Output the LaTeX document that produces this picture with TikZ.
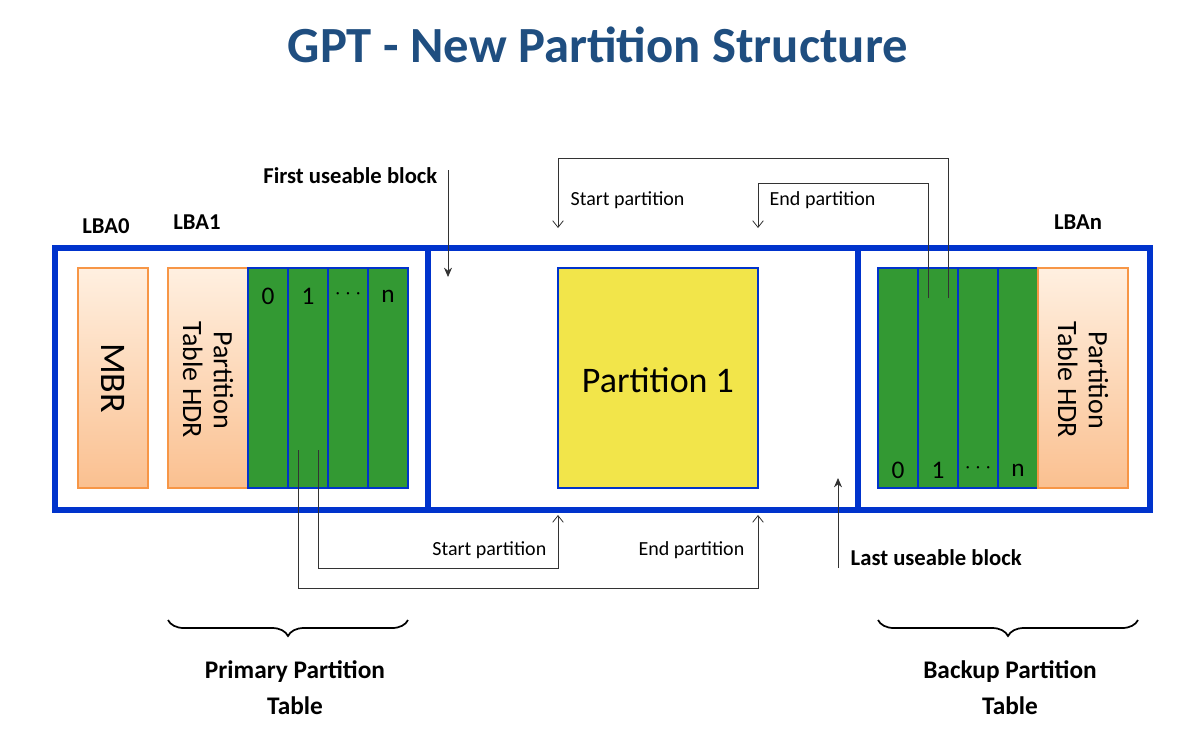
\documentclass[tikz,border=0pt]{standalone}
\usepackage{fontspec}
\setmainfont{Carlito}
\usetikzlibrary{arrows.meta,decorations.pathreplacing}
\definecolor{gblue}{HTML}{0033CC}
\definecolor{ggreen}{HTML}{339933}
\definecolor{gyel}{HTML}{F2E54A}
\definecolor{gor}{HTML}{F79646}
\definecolor{gtitle}{HTML}{1F4E80}
\begin{document}
\begin{tikzpicture}[x=0.75pt,y=-0.75pt,
  cell/.style={draw=gblue,line width=1.2pt,fill=ggreen},
  hdr/.style={draw=gor,line width=0.8pt,top color=orange!12,bottom color=gor!60},
  con/.style={draw=black!80,line width=0.6pt},
  lbl/.style={font=\fontsize{15}{18}\selectfont},
  blbl/.style={font=\bfseries\fontsize{17}{20}\selectfont},
  num/.style={font=\fontsize{19}{22}\selectfont}]
\useasboundingbox (0,0) rectangle (1196,740);
\node[font=\bfseries\fontsize{38}{44}\selectfont,text=gtitle] (title) at (598,45) {GPT - New Partition Structure};
% outer box
\draw[gblue,line width=5pt] (55,248) rectangle (1150,510);
\draw[gblue,line width=4pt] (428,248) -- (428,510) (858,248) -- (858,510);
% MBR
\path[hdr] (78,268) rectangle (148,488);
\node[rotate=-90,font=\fontsize{27}{30}\selectfont] (mbr) at (113,378) {MBR};
% left HDR
\path[hdr] (168,268) rectangle (248,488);
\node[rotate=-90,align=center,font=\fontsize{21}{23}\selectfont] (hdrl) at (208,380) {Partition\\Table HDR};
\foreach \i/\t in {0/0,1/1,2/\raisebox{2pt}{$\cdots$},3/n}{
  \path[cell] (248+40*\i,268) rectangle (288+40*\i,488);
  \node[num] (l\i) at (268+40*\i,296) {\t};
}
% right
\foreach \i/\t in {0/0,1/1,2/\raisebox{2pt}{$\cdots$},3/n}{
  \path[cell] (878+40*\i,268) rectangle (918+40*\i,488);
  \node[num] (r\i) at (898+40*\i,470) {\t};
}
\path[hdr] (1038,268) rectangle (1128,488);
\node[rotate=-90,align=center,font=\fontsize{21}{23}\selectfont] (hdrr) at (1083,380) {Partition\\Table HDR};
% partition 1
\path[draw=gblue,line width=1.2pt,fill=gyel] (558,268) rectangle (758,488);
\node[font=\fontsize{27}{30}\selectfont] (p1) at (658,380) {Partition 1};
% coordinates
\coordinate (ls) at (318,450); \coordinate (le) at (298,450);
\coordinate (bs) at (558,515); \coordinate (be) at (758,515);
\coordinate (rs) at (948,298); \coordinate (re) at (928,298);
\coordinate (ts) at (558,228); \coordinate (te) at (758,228);
\draw[con,-{Straight Barb[length=5pt,width=8pt]}] (ls) |- (558,568) -- (bs);
\draw[con,-{Straight Barb[length=5pt,width=8pt]}] (le) |- (758,588) -- (be);
\draw[con,-{Straight Barb[length=5pt,width=8pt]}] (rs) |- (558,158) -- (ts);
\draw[con,-{Straight Barb[length=5pt,width=8pt]}] (re) |- (758,183) -- (te);
\node[lbl,anchor=east] (sp1) at (551,550) {Start partition};
\node[lbl,anchor=east] (ep1) at (749,550) {End partition};
\node[lbl,anchor=west] (sp2) at (566,200) {Start partition};
\node[lbl,anchor=west] (ep2) at (765,200) {End partition};
% useable blocks
\node[blbl,anchor=east] (fub) at (442,176) {First useable block};
\coordinate (fa) at (448,170); \coordinate (fb) at (448,277);
\draw[con,-{Stealth[length=7pt,width=6pt]}] (fa) -- (fb);
\node[blbl,anchor=west] (lub) at (846,558) {Last useable block};
\coordinate (la) at (838,568); \coordinate (lb) at (838,478);
\draw[con,-{Stealth[length=7pt,width=6pt]}] (la) -- (lb);
% LBA labels
\node[blbl] (lba0) at (106,226) {LBA0};
\node[blbl] (lba1) at (197,222) {LBA1};
\node[blbl] (lban) at (1078,222) {LBAn};
% braces
\draw[line width=1.3pt,decorate,decoration={brace,mirror,amplitude=12pt}] (168,620) -- (408,620);
\draw[line width=1.3pt,decorate,decoration={brace,mirror,amplitude=12pt}] (878,620) -- (1138,620);
\node[blbl,align=center,font=\bfseries\fontsize{19}{27}\selectfont] (ppt) at (295,688) {Primary Partition\\Table};
\node[blbl,align=center,font=\bfseries\fontsize{19}{27}\selectfont] (bpt) at (1010,688) {Backup Partition\\Table};
\end{tikzpicture}
\end{document}
